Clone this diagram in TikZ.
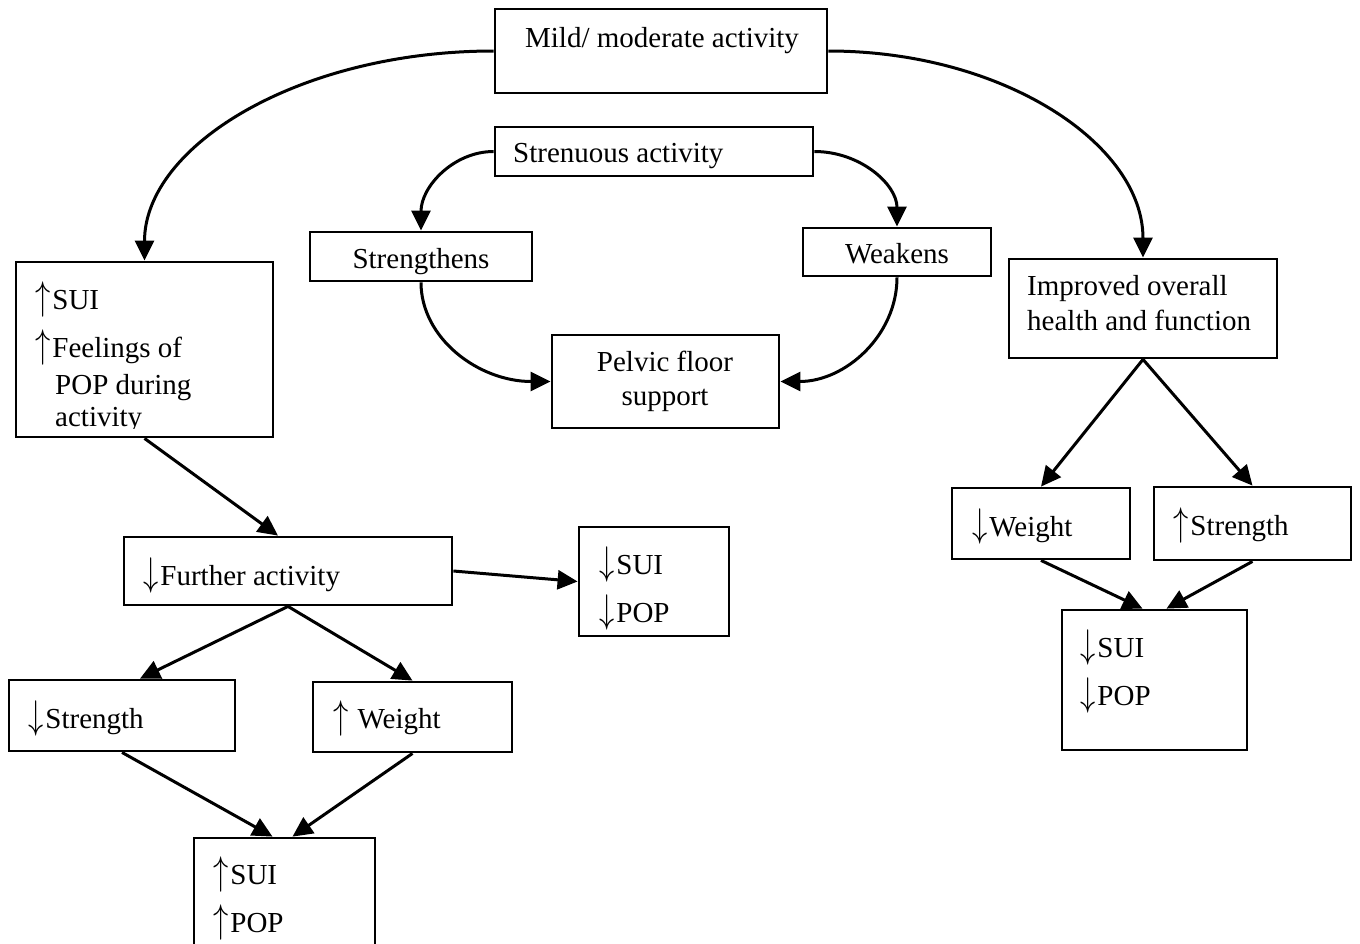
\RequirePackage{fix-cm}
\documentclass[tikz,border=0pt]{standalone}
\usepackage{fontspec}
\setmainfont{Liberation Serif}
\usetikzlibrary{arrows.meta,fit}
\newcommand{\ua}{\scalebox{1.05}[1.38]{$\uparrow$}\hspace{2pt}}
\newcommand{\da}{\scalebox{1.05}[1.38]{$\downarrow$}\hspace{2pt}}
\begin{document}
\begin{tikzpicture}[x=1pt,y=-1pt,
  box/.style={draw, line width=2.8pt, inner sep=0pt},
  arr/.style={line width=3pt, -{Triangle[length=20pt,width=19pt]}},
  txt/.style={inner sep=0pt, anchor=base west, font=\fontsize{29}{35}\selectfont},
  ctxt/.style={txt, anchor=base}]
\useasboundingbox (0,0) rectangle (1360,943);
\clip (0,0) rectangle (1360,943);
% boxes
\node[box, fit={(495,9) (827,93)}] (mild) {};
\node[box, fit={(495,127) (813,176)}] (stren) {};
\node[box, fit={(310,232) (532,281)}] (strg) {};
\node[box, fit={(803,228) (991,276)}] (weak) {};
\node[box, fit={(552,335) (779,428)}] (pelvic) {};
\node[box, fit={(16,262) (273,437)}] (suiL) {};
\node[box, fit={(1009,259) (1277,358)}] (impr) {};
\node[box, fit={(124,537) (452,605)}] (further) {};
\node[box, fit={(579,527) (729,636)}] (midres) {};
\node[box, fit={(9,680) (235,751)}] (dstr) {};
\node[box, fit={(313,682) (512,752)}] (uwt) {};
\node[box, fit={(194,838) (375,960)}] (botres) {};
\node[box, fit={(952,488) (1130,559)}] (dwt) {};
\node[box, fit={(1154,487) (1351,560)}] (ustr) {};
\node[box, fit={(1062,610) (1247,750)}] (rres) {};
% texts
\node[ctxt] (tmild) at (662,47) {Mild/ moderate activity};
\node[txt] (tstren) at (513,162) {Strenuous activity};
\node[ctxt] (tstrg) at (421,268) {Strengthens};
\node[ctxt] (tweak) at (897,263) {Weakens};
\node[ctxt] (tpel1) at (665,371) {Pelvic floor};
\node[ctxt] (tpel2) at (665,405) {support};
\node[txt] (timp1) at (1027,295) {Improved overall};
\node[txt] (timp2) at (1027,330) {health and function};
\node[txt] (tsl1) at (35,309) {\ua SUI};
\node[txt] (tsl2) at (35,357) {\ua Feelings of};
\node[txt] (tsl3) at (55,394) {POP during};
\begin{scope}
\clip (20,390) rectangle (270,428);
\node[txt] (tsl4) at (55,426) {activity};
\end{scope}
\node[txt] (tfur) at (143,585) {\da Further activity};
\node[txt] (tmr1) at (599,574) {\da SUI};
\node[txt] (tmr2) at (599,622) {\da POP};
\node[txt] (tdstr) at (28,728) {\da Strength};
\node[txt] (tuwt) at (333,728) {\ua\ Weight};
\node[txt] (tbr1) at (213,884) {\ua SUI};
\node[txt] (tbr2) at (213,932) {\ua POP};
\node[txt] (tdwt) at (972,536) {\da Weight};
\node[txt] (tustr) at (1173,535) {\ua Strength};
\node[txt] (trr1) at (1080,657) {\da SUI};
\node[txt] (trr2) at (1080,705) {\da POP};
% connectors
\draw[arr] (mild.west) .. controls +(-194,0) and +(0,-115) .. (suiL.north);
\draw[arr] (mild.east) .. controls +(174,0) and +(0,-114) .. (impr.north);
\draw[arr] (stren.west) .. controls +(-40,0) and +(0,-44) .. (strg.north);
\draw[arr] (stren.east) .. controls +(46,0) and +(0,-42) .. (weak.north);
\draw[arr] (strg.south) .. controls +(0,56) and +(-72,0) .. (pelvic.west);
\draw[arr] (weak.south) .. controls +(0,58) and +(65,0) .. (pelvic.east);
\draw[arr] (suiL.south) -- ([xshift=-10pt]further.north);
\draw[arr] (further.east) -- (midres.west);
\draw[arr] (further.south) -- ([xshift=18pt]dstr.north);
\draw[arr] (further.south) -- (uwt.north);
\draw[arr] (dstr.south) -- ([xshift=-12pt]botres.north);
\draw[arr] (uwt.south) -- ([xshift=8pt]botres.north);
\draw[arr] (impr.south) -- (dwt.north);
\draw[arr] (impr.south) -- (ustr.north);
\draw[arr] (dwt.south) -- ([xshift=-12pt]rres.north);
\draw[arr] (ustr.south) -- ([xshift=12pt]rres.north);
\end{tikzpicture}
\end{document}
